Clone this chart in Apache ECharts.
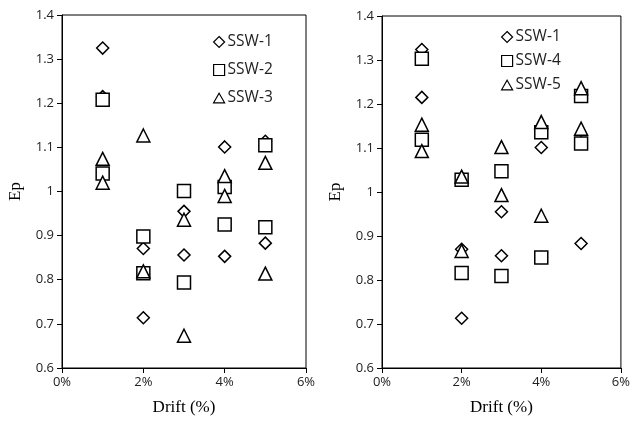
<!DOCTYPE html>
<html>
<head>
<meta charset="utf-8">
<script src="https://cdn.jsdelivr.net/npm/echarts@6/dist/echarts.min.js"></script>
<style>
  html, body { margin: 0; padding: 0; background: #fff; }
  #main { width: 633px; height: 421px; }
</style>
</head>
<body>
<div id="main"></div>
<script>
// drift (%) for each point
var drift_ssw1 = [1, 1, 2, 2, 3, 3, 4, 4, 5, 5]
var ep_ssw1_left = [1.325, 1.215, 0.871, 0.714, 0.955, 0.856, 1.101, 0.853, 1.114, 0.883]
var ep_ssw2 = [1.208, 1.041, 0.898, 0.815, 1.001, 0.794, 1.010, 0.925, 1.105, 0.919]
var ep_ssw3 = [1.074, 1.020, 1.127, 0.819, 0.936, 0.673, 1.035, 0.990, 1.065, 0.814]
var ep_ssw1_right = [1.324, 1.215, 0.870, 0.713, 0.955, 0.855, 1.101, 0.851, 1.112, 0.883]
var ep_ssw4 = [1.303, 1.119, 1.028, 0.816, 1.047, 0.809, 1.136, 0.851, 1.218, 1.110]
var ep_ssw5 = [1.153, 1.093, 1.035, 0.866, 1.102, 0.993, 1.159, 0.946, 1.236, 1.144]
var left_names = ['SSW-1', 'SSW-2', 'SSW-3']
var right_names = ['SSW-1', 'SSW-4', 'SSW-5']

var diamond = 'path://M0,-1L1,0L0,1L-1,0Z'
var triangle = 'path://M0,-1L1,0.75L-1,0.75Z'

function pairs(xs, ys) {
  var out = []
  for (var i = 0; i < xs.length; i++) out.push([xs[i], ys[i]])
  return out
}

function mark(name, idx, symbol, size, ys) {
  return {
    name: name,
    type: 'scatter',
    xAxisIndex: idx,
    yAxisIndex: idx,
    symbol: symbol,
    symbolSize: size,
    itemStyle: { color: '#fff', borderColor: '#000', borderWidth: 1.5, opacity: 1 },
    data: pairs(drift_ssw1, ys)
  }
}

function xAxisFor(idx) {
  return {
    gridIndex: idx, type: 'value', min: 0, max: 6, interval: 2,
    name: 'Drift (%)', nameLocation: 'middle', nameGap: 31,
    nameTextStyle: { fontFamily: 'Liberation Serif', fontSize: 17, color: '#000' },
    axisLine: { onZero: false, lineStyle: { color: '#000', width: 1 } },
    axisTick: { show: true, length: 5, lineStyle: { color: '#000' } },
    axisLabel: { formatter: '{value}%', fontFamily: 'Open Sans', fontSize: 13, color: '#222', margin: 8 },
    splitLine: { show: false }
  }
}

function yAxisFor(idx) {
  return {
    gridIndex: idx, type: 'value', min: 0.6, max: 1.4, interval: 0.1,
    name: 'Ep', nameLocation: 'middle', nameGap: 38,
    nameTextStyle: { fontFamily: 'Liberation Serif', fontSize: 17, color: '#000' },
    axisLine: { show: true, lineStyle: { color: '#000', width: 1 } },
    axisTick: { show: true, length: 5, lineStyle: { color: '#000' } },
    axisLabel: {
      fontFamily: 'Open Sans', fontSize: 13, color: '#222', margin: 8,
      formatter: function(v) { return v === 1 ? '1' : v.toFixed(1) }
    },
    splitLine: { show: false }
  }
}

function legendFor(names, left, top, gap) {
  return {
    data: names, orient: 'vertical', left: left, top: top,
    itemWidth: 11, itemHeight: 11, itemGap: gap,
    selectedMode: false,
    itemStyle: { borderWidth: 1.2 },
    textStyle: { fontFamily: 'Open Sans', fontSize: 15.5, color: '#222', padding: [0, 0, 0, -2] }
  }
}

var chart = echarts.init(document.getElementById('main'))
chart.setOption({
  animation: false,
  backgroundColor: '#fff',
  grid: [
    { left: 62, top: 15, width: 244, height: 355, show: true, borderColor: '#000', borderWidth: 1 },
    { left: 382, top: 16, width: 242, height: 358, show: true, borderColor: '#000', borderWidth: 1 }
  ],
  legend: [
    legendFor(left_names, 208, 29, 12),
    legendFor(right_names, 496, 24, 8)
  ],
  xAxis: [xAxisFor(0), xAxisFor(1)],
  yAxis: [yAxisFor(0), yAxisFor(1)],
  series: [
    mark('SSW-1', 0, diamond, 12, ep_ssw1_left),
    mark('SSW-2', 0, 'rect', 13, ep_ssw2),
    mark('SSW-3', 0, triangle, 13, ep_ssw3),
    mark('SSW-1', 1, diamond, 12, ep_ssw1_right),
    mark('SSW-4', 1, 'rect', 13, ep_ssw4),
    mark('SSW-5', 1, triangle, 13, ep_ssw5)
  ]
})
</script>
</body>
</html>
